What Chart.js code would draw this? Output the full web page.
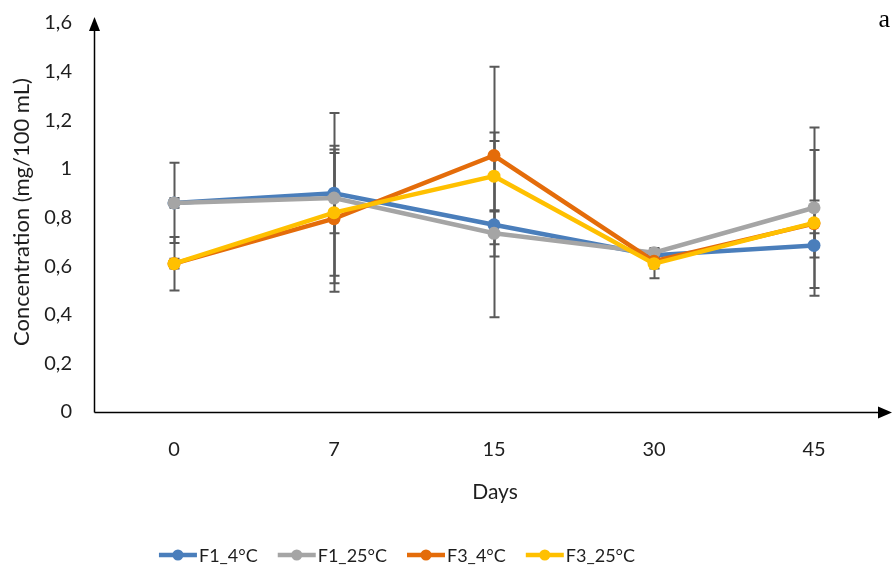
<!DOCTYPE html>
<html>
<head>
<meta charset="utf-8">
<script src="https://cdn.jsdelivr.net/npm/chart.js@4"></script>
<style>
  html, body { margin: 0; padding: 0; background: #fff; }
  #chart { display: block; }
</style>
</head>
<body>
<canvas id="chart" width="894" height="575"></canvas>
<script>
// Sampling days
const days = ['0', '7', '15', '30', '45'];

// Mean concentration (mg/100 mL) and standard deviation per formulation / storage temperature
const f1Cold   = [0.86, 0.90, 0.77, 0.645, 0.685];
const f1ColdSd = [0.02, 0.165, 0.38, 0.02, 0.05];
const f1Warm   = [0.86, 0.88, 0.735, 0.655, 0.84];
const f1WarmSd = [0.165, 0.35, 0.095, 0.02, 0.33];
const f3Cold   = [0.61, 0.795, 1.055, 0.62, 0.775];
const f3ColdSd = [0.02, 0.30, 0.365, 0.03, 0.095];
const f3Warm   = [0.61, 0.82, 0.97, 0.61, 0.778];
const f3WarmSd = [0.11, 0.26, 0.145, 0.06, 0.30];

const seriesNames = ['F1_4°C', 'F1_25°C', 'F3_4°C', 'F3_25°C'];
const seriesColors = ['#4a7ebb', '#a5a5a5', '#e46c0a', '#ffc000'];

// Y axis range / step
const yMin = 0;
const yMax = 1.6;
const yStep = 0.2;

const FONT = 'Lato, "Open Sans", sans-serif';
const TEXT = '#1e1e1e';

function makeSet(i, values, sd) {
  return {
    label: seriesNames[i],
    data: values,
    sd: sd,
    borderColor: seriesColors[i],
    backgroundColor: seriesColors[i],
    pointBackgroundColor: seriesColors[i],
    pointBorderWidth: 0,
    pointRadius: 6.5,
    borderWidth: 4.5,
    tension: 0,
    order: 4 - i,   // later series sit on top
  };
}

// Error bars, axes with arrowheads, titles and legend
const decor = {
  id: 'decor',
  beforeDatasetsDraw(chart) {
    const ctx = chart.ctx;
    const xs = chart.scales.x, ys = chart.scales.y;
    ctx.save();
    ctx.strokeStyle = '#595959';
    ctx.lineWidth = 2;
    chart.data.datasets.forEach(function (ds) {
      ds.data.forEach(function (v, j) {
        const x = Math.round(xs.getPixelForValue(j)) + 0.5;
        const top = ys.getPixelForValue(v + ds.sd[j]);
        const bot = ys.getPixelForValue(v - ds.sd[j]);
        ctx.beginPath();
        ctx.moveTo(x, top); ctx.lineTo(x, bot);
        ctx.moveTo(x - 5, top); ctx.lineTo(x + 5, top);
        ctx.moveTo(x - 5, bot); ctx.lineTo(x + 5, bot);
        ctx.stroke();
      });
    });
    ctx.restore();
  },
  afterDraw(chart) {
    const ctx = chart.ctx;
    const area = chart.chartArea;
    const y0 = Math.round(chart.scales.y.getPixelForValue(0)) + 0.5;
    const x0 = area.left + 0.5;
    ctx.save();

    // axes
    ctx.strokeStyle = '#000';
    ctx.fillStyle = '#000';
    ctx.lineWidth = 1.5;
    ctx.beginPath();
    ctx.moveTo(x0, y0); ctx.lineTo(x0, 30);
    ctx.moveTo(x0, y0); ctx.lineTo(880, y0);
    ctx.stroke();
    ctx.beginPath();
    ctx.moveTo(x0, 17); ctx.lineTo(x0 - 5.5, 31); ctx.lineTo(x0 + 5.5, 31);
    ctx.closePath();
    ctx.fill();
    ctx.beginPath();
    ctx.moveTo(892, y0); ctx.lineTo(878, y0 - 6); ctx.lineTo(878, y0 + 6);
    ctx.closePath();
    ctx.fill();

    // axis titles
    ctx.fillStyle = TEXT;
    ctx.font = '21px ' + FONT;
    ctx.textAlign = 'center';
    ctx.textBaseline = 'middle';
    ctx.fillText('Days', 495, 492);
    ctx.save();
    ctx.translate(22, 212);
    ctx.rotate(-Math.PI / 2);
    ctx.font = '22px ' + FONT;
    ctx.fillText('Concentration (mg/100 mL)', 0, 0);
    ctx.restore();

    // panel letter
    ctx.font = '26px "Liberation Serif", serif';
    ctx.textAlign = 'right';
    ctx.fillStyle = '#000';
    ctx.fillText('a', 890, 20);

    // legend
    ctx.font = '18px ' + FONT;
    ctx.textAlign = 'left';
    const markW = 38, gap = 2, spacing = 20;
    const items = chart.data.datasets.map(function (ds) {
      return { text: ds.label, color: ds.borderColor, w: markW + gap + ctx.measureText(ds.label).width };
    });
    const total = items.reduce(function (s, it) { return s + it.w; }, 0) + spacing * (items.length - 1);
    let x = 397 - total / 2;
    const ly = 555;
    items.forEach(function (it) {
      ctx.strokeStyle = it.color;
      ctx.fillStyle = it.color;
      ctx.lineWidth = 4.5;
      ctx.beginPath();
      ctx.moveTo(x, ly); ctx.lineTo(x + markW, ly);
      ctx.stroke();
      ctx.beginPath();
      ctx.arc(x + markW / 2, ly, 5.5, 0, Math.PI * 2);
      ctx.fill();
      ctx.fillStyle = TEXT;
      ctx.fillText(it.text, x + markW + gap, ly + 1);
      x += it.w + spacing;
    });
    ctx.restore();
  }
};

new Chart(document.getElementById('chart'), {
  type: 'line',
  data: {
    labels: days,
    datasets: [
      makeSet(0, f1Cold, f1ColdSd),
      makeSet(1, f1Warm, f1WarmSd),
      makeSet(2, f3Cold, f3ColdSd),
      makeSet(3, f3Warm, f3WarmSd),
    ],
  },
  options: {
    responsive: false,
    animation: false,
    layout: { autoPadding: false, padding: { top: 23, right: 0, bottom: 103, left: 0 } },
    plugins: {
      legend: { display: false },
      tooltip: { enabled: false },
    },
    scales: {
      x: {
        offset: true,
        grid: { display: false, drawTicks: false },
        border: { display: false },
        ticks: { color: TEXT, font: { family: FONT, size: 20 }, padding: 26 },
        afterFit: function (scale) {
          scale.height = 60;
          scale.paddingLeft = 0;
          scale.paddingRight = 0;
        },
      },
      y: {
        min: yMin,
        max: yMax,
        grid: { display: false, drawTicks: false },
        border: { display: false },
        ticks: {
          stepSize: yStep,
          color: TEXT,
          font: { family: FONT, size: 20 },
          padding: 22,
          callback: function (v) { return String(Math.round(v * 10) / 10).replace('.', ','); },
        },
        afterFit: function (scale) {
          scale.width = 94;
          scale.paddingTop = 0;
          scale.paddingBottom = 0;
        },
      },
    },
  },
  plugins: [decor],
});
</script>
</body>
</html>
